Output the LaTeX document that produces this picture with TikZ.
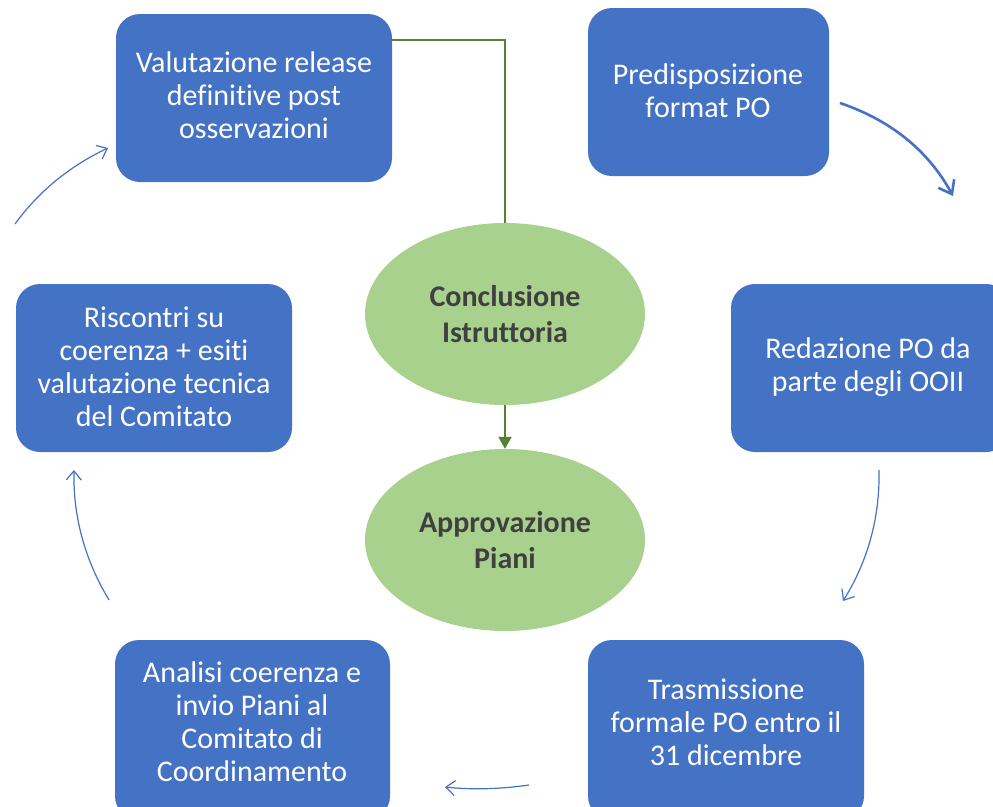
\documentclass[tikz,border=0pt]{standalone}
\usepackage{fontspec}
\setmainfont[Ligatures=NoCommon]{Carlito}
\usetikzlibrary{arrows.meta,shapes.geometric}
\definecolor{boxblue}{RGB}{68,114,196}
\definecolor{ellgreen}{RGB}{169,209,142}
\definecolor{linegreen}{RGB}{84,130,53}
\definecolor{txtgray}{RGB}{64,64,64}
\begin{document}
\begin{tikzpicture}[x=1pt,y=-1pt,
  stepbox/.style={text=white, align=center,
    font=\fontsize{30}{33}\selectfont, inner sep=0pt},
  ellnode/.style={ellipse, fill=ellgreen, minimum width=280pt, minimum height=182pt,
    text=txtgray, align=center, font=\fontsize{30}{36}\selectfont\bfseries, inner sep=0pt},
  boxfill/.style={fill=boxblue, rounded corners=24pt},
  cyc/.style={draw=boxblue, line width=1.2pt, -{Straight Barb[length=9pt,width=15pt]}},
  cycthick/.style={draw=boxblue, line width=2.6pt, -{Straight Barb[length=12pt,width=18pt]}}
]
\useasboundingbox (0,0) rectangle (993,806);
% boxes
\fill[boxfill] (116,14) rectangle (392,182);
\node[stepbox] (val) at (254,95) {Valutazione release\\definitive post\\osservazioni};
\fill[boxfill] (588,8) rectangle (829,176);
\node[stepbox] (pre) at (708,91) {Predisposizione\\format PO};
\fill[boxfill] (731,284) rectangle (1010,452);
\node[stepbox] (red) at (868,367) {Redazione PO da\\parte degli OOII};
\fill[boxfill] (588,640) rectangle (864,820);
\node[stepbox] (tra) at (726,722) {Trasmissione\\formale PO entro il\\31 dicembre};
\fill[boxfill] (115,640) rectangle (390,820);
\node[stepbox] (ana) at (252,722) {Analisi coerenza e\\invio Piani al\\Comitato di\\Coordinamento};
\fill[boxfill] (16,284) rectangle (292,452);
\node[stepbox] (ris) at (154,367) {Riscontri su\\coerenza + esiti\\valutazione tecnica\\del Comitato};
% ellipses
\node[ellnode] (con) at (505,314) {Conclusione\\Istruttoria};
\node[ellnode] (app) at (505,540) {Approvazione\\Piani};
% connectors
\coordinate (vr) at (392,40);
\draw[linegreen, line width=2pt] (vr) -| (con.north);
\draw[linegreen, line width=2pt, -{Triangle[length=12pt,width=13pt]}] (con.south) -- (app.north);
% cycle arrows
\coordinate (a1s) at (840,103); \coordinate (a1e) at (953,196);
\draw[cycthick] (a1s) .. controls (890,120) and (928,150) .. (a1e);
\coordinate (a2s) at (879,470); \coordinate (a2e) at (843,601);
\draw[cyc] (a2s) .. controls (880,517) and (868,561) .. (a2e);
\coordinate (a3s) at (529,785); \coordinate (a3e) at (445,787);
\draw[cyc] (a3s) .. controls (501,789) and (473,790) .. (a3e);
\coordinate (a4s) at (109,600); \coordinate (a4e) at (74,470);
\draw[cyc] (a4s) .. controls (85,560) and (73,517) .. (a4e);
\coordinate (a5s) at (15,224); \coordinate (a5e) at (108,148);
\draw[cyc] (a5s) .. controls (39,191) and (70,166) .. (a5e);
\end{tikzpicture}
\end{document}
